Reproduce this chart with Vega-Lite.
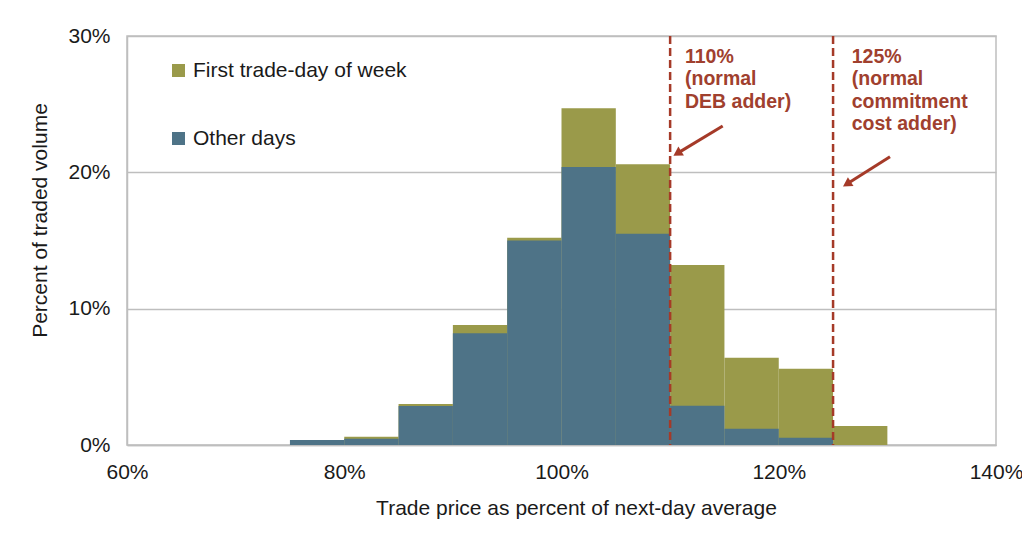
{
  "$schema": "https://vega.github.io/schema/vega-lite/v6.json",
  "width": 869,
  "height": 409,
  "autosize": "none",
  "padding": {"left": 127, "top": 36, "right": 26, "bottom": 97},
  "background": "white",
  "config": {
    "font": "Liberation Sans",
    "view": {"stroke": "#BEBEBE", "strokeWidth": 1.5},
    "axis": {"labelFont": "Liberation Sans", "titleFont": "Liberation Sans", "labelColor": "#1a1a1a", "titleColor": "#1a1a1a", "titleFontWeight": "normal"}
  },
  "datasets": {
    "bars": [
      {"lo": 80, "hi": 85, "series": "First trade-day of week", "pct": 0.6},
      {"lo": 85, "hi": 90, "series": "First trade-day of week", "pct": 3.0},
      {"lo": 90, "hi": 95, "series": "First trade-day of week", "pct": 8.8},
      {"lo": 95, "hi": 100, "series": "First trade-day of week", "pct": 15.2},
      {"lo": 100, "hi": 105, "series": "First trade-day of week", "pct": 24.7},
      {"lo": 105, "hi": 110, "series": "First trade-day of week", "pct": 20.6},
      {"lo": 110, "hi": 115, "series": "First trade-day of week", "pct": 13.2},
      {"lo": 115, "hi": 120, "series": "First trade-day of week", "pct": 6.4},
      {"lo": 120, "hi": 125, "series": "First trade-day of week", "pct": 5.6},
      {"lo": 125, "hi": 130, "series": "First trade-day of week", "pct": 1.4},
      {"lo": 75, "hi": 80, "series": "Other days", "pct": 0.37},
      {"lo": 80, "hi": 85, "series": "Other days", "pct": 0.45},
      {"lo": 85, "hi": 90, "series": "Other days", "pct": 2.86},
      {"lo": 90, "hi": 95, "series": "Other days", "pct": 8.2},
      {"lo": 95, "hi": 100, "series": "Other days", "pct": 15.0},
      {"lo": 100, "hi": 105, "series": "Other days", "pct": 20.4},
      {"lo": 105, "hi": 110, "series": "Other days", "pct": 15.5},
      {"lo": 110, "hi": 115, "series": "Other days", "pct": 2.87},
      {"lo": 115, "hi": 120, "series": "Other days", "pct": 1.2},
      {"lo": 120, "hi": 125, "series": "Other days", "pct": 0.54}
    ],
    "refs": [{"x": 110}, {"x": 125}],
    "arrows": [
      {"x": 114.84, "y": 23.4, "x2": 110.66, "y2": 21.39},
      {"x": 130.24, "y": 21.15, "x2": 126.27, "y2": 19.14}
    ],
    "notes": [
      {"x": 111.37, "y": 28.04, "label": ["110%", "(normal", "DEB adder)"]},
      {"x": 126.72, "y": 28.04, "label": ["125%", "(normal", "commitment", "cost adder)"]}
    ]
  },
  "layer": [
    {
      "data": {"name": "bars"},
      "mark": {"type": "bar", "strokeWidth": 0},
      "encoding": {
        "x": {
          "field": "lo", "type": "quantitative",
          "scale": {"domain": [60, 140], "nice": false, "zero": false},
          "axis": {
            "values": [60, 80, 100, 120, 140],
            "labelExpr": "datum.value + '%'",
            "grid": false, "ticks": false, "labelFlush": false,
            "domainColor": "#BEBEBE", "domainWidth": 1.5,
            "labelFontSize": 21, "labelPadding": 16,
            "title": "Trade price as percent of next-day average",
            "titleFontSize": 21, "titlePadding": 15, "titleX": 449
          }
        },
        "x2": {"field": "hi"},
        "y": {
          "field": "pct", "type": "quantitative", "stack": null,
          "scale": {"domain": [0, 30], "nice": false},
          "axis": {
            "values": [0, 10, 20, 30],
            "labelExpr": "datum.value + '%'",
            "grid": true, "gridColor": "#BEBEBE", "gridWidth": 1.3,
            "ticks": false,
            "domainColor": "#BEBEBE", "domainWidth": 1.5,
            "labelFontSize": 21, "labelPadding": 17,
            "title": "Percent of traded volume",
            "titleFontSize": 21, "titlePadding": 17, "titleY": 184
          }
        },
        "y2": {"datum": 0},
        "color": {
          "field": "series", "type": "nominal",
          "scale": {"domain": ["First trade-day of week", "Other days"], "range": ["#9A9A4A", "#4E7387"]},
          "legend": {
            "title": null, "orient": "none", "legendX": 41, "legendY": 24,
            "symbolType": "square", "symbolSize": 169, "symbolStrokeWidth": 0,
            "labelFontSize": 21, "labelColor": "#1a1a1a", "labelOffset": 4, "labelLimit": 0,
            "rowPadding": 46
          }
        }
      }
    },
    {
      "data": {"name": "refs"},
      "mark": {"type": "rule", "color": "#A53A28", "strokeWidth": 2.5, "strokeDash": [8, 4]},
      "encoding": {"x": {"field": "x", "type": "quantitative"}}
    },
    {
      "data": {"name": "arrows"},
      "mark": {"type": "rule", "color": "#A53A28", "strokeWidth": 3},
      "encoding": {
        "x": {"field": "x", "type": "quantitative"},
        "y": {"field": "y", "type": "quantitative"},
        "x2": {"field": "x2"},
        "y2": {"field": "y2"}
      }
    },
    {
      "data": {"name": "arrows"},
      "mark": {"type": "point", "shape": "triangle-up", "filled": true, "color": "#A53A28", "size": 110, "angle": 238, "opacity": 1},
      "encoding": {
        "x": {"field": "x2", "type": "quantitative"},
        "y": {"field": "y2", "type": "quantitative"}
      }
    },
    {
      "data": {"name": "notes"},
      "mark": {"type": "text", "align": "left", "baseline": "alphabetic", "fontSize": 19.5, "fontWeight": "bold", "color": "#A0402E", "lineHeight": 22.5, "font": "Liberation Sans"},
      "encoding": {
        "x": {"field": "x", "type": "quantitative"},
        "y": {"field": "y", "type": "quantitative"},
        "text": {"field": "label"}
      }
    }
  ]
}
